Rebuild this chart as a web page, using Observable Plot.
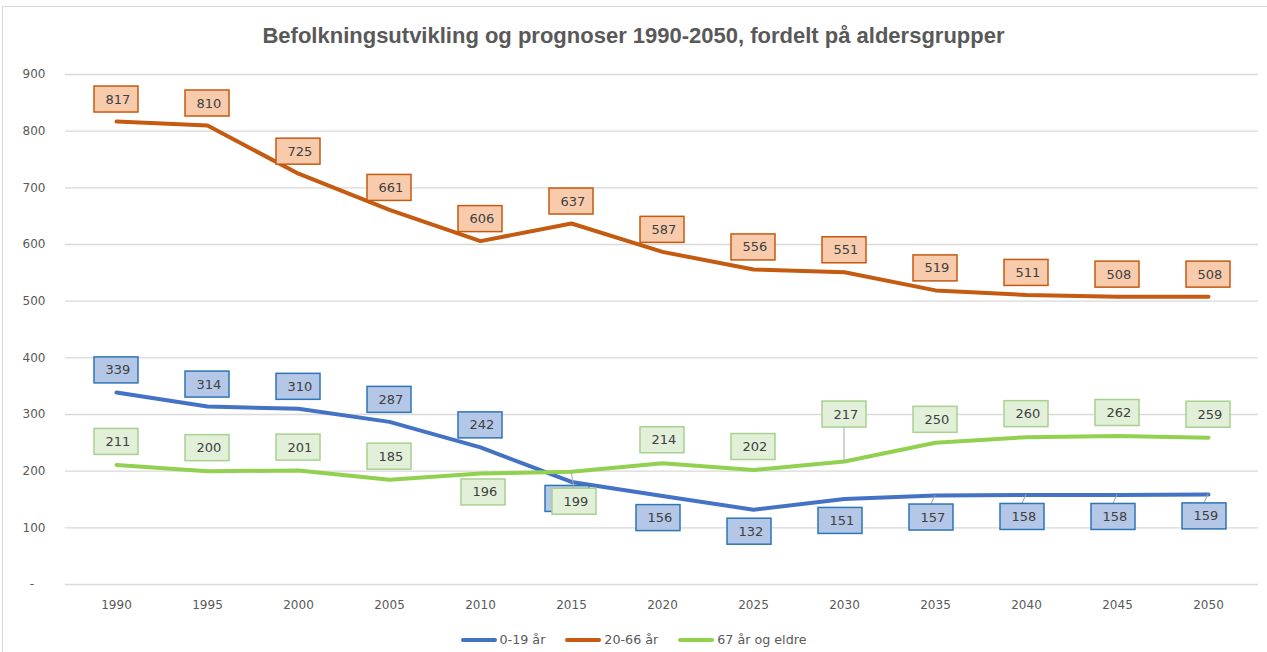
<!DOCTYPE html>
<html>
<head>
<meta charset="utf-8">
<script src="https://cdn.jsdelivr.net/npm/d3@7"></script>
<script src="https://cdn.jsdelivr.net/npm/@observablehq/plot@0.6"></script>
<style>
  html, body { margin: 0; padding: 0; background: #fff; }
  #wrap { position: relative; width: 1267px; height: 652px; overflow: hidden; font-family: "DejaVu Sans", sans-serif; }
  #frame { position: absolute; left: 2px; top: 6px; width: 1300px; height: 700px; border: 1px solid #d9d9d9; }
  #title { position: absolute; left: 0; width: 1267px; top: 23px; text-align: center; font-family: "Liberation Sans", sans-serif; font-weight: bold; font-size: 22px; color: #595959; }
  #chart { position: absolute; left: 0; top: 60px; }
  #legend { position: absolute; left: 0; width: 1267px; top: 632px; display: flex; justify-content: center; gap: 20px; font-size: 12.7px; color: #595959; }
  .item { display: flex; align-items: center; gap: 3px; }
  .sw { display: inline-block; width: 36px; height: 4px; border-radius: 2px; }
</style>
</head>
<body>
<div id="wrap">
  <div id="frame"></div>
  <div id="title">Befolkningsutvikling og prognoser 1990-2050, fordelt på aldersgrupper</div>
  <div id="chart"></div>
  <div id="legend"></div>
</div>
<script>
const years = [1990, 1995, 2000, 2005, 2010, 2015, 2020, 2025, 2030, 2035, 2040, 2045, 2050];
const young = [339, 314, 310, 287, 242, 181, 156, 132, 151, 157, 158, 158, 159];
const adults = [817, 810, 725, 661, 606, 637, 587, 556, 551, 519, 511, 508, 508];
const elderly = [211, 200, 201, 185, 196, 199, 214, 202, 217, 250, 260, 262, 259];
const seriesNames = ["0-19 år", "20-66 år", "67 år og eldre"];
const yTicks = [0, 100, 200, 300, 400, 500, 600, 700, 800, 900];

const styles = {
  "0-19 år": {line: "#4472C4", fill: "#B4C7E7", stroke: "#2E75B6"},
  "20-66 år": {line: "#C55A11", fill: "#F8CBAD", stroke: "#C55A11"},
  "67 år og eldre": {line: "#92D050", fill: "#E2F0D9", stroke: "#A9D18E"}
};

const rows = [];
[young, adults, elderly].forEach((vals, s) => {
  vals.forEach((v, i) => rows.push({series: seriesNames[s], year: years[i], value: v, i}));
});

// label placement rule (in pixels)
function labelOffset(d) {
  const b = young[d.i], g = elderly[d.i];
  if (d.series === "20-66 år") return {dx: 0, dy: -22, leader: false, hidden: false};
  if (d.series === "0-19 år") {
    if (b < g) {
      // label covered by the other series' label where the lines cross
      const covered = Math.abs(b - g) < 50;
      return {dx: -4, dy: covered ? 17 : 22, leader: d.year >= 2035, hidden: covered};
    }
    return {dx: 0, dy: -22, leader: false, hidden: false};
  }
  // elderly
  if (d.year === 2030) return {dx: 0, dy: -47, leader: true, hidden: false};
  if (Math.abs(b - g) < 50) return {dx: 3, dy: b < g ? 30 : 19, leader: b < g, hidden: false};
  return {dx: 0, dy: -23, leader: false, hidden: false};
}

const labelMark = (index, scales) => {
  const g = d3.create("svg:g");
  rows.forEach(d => {
    const st = styles[d.series];
    const o = labelOffset(d);
    const px = scales.x(d.year), py = scales.y(d.value);
    const cx = px + o.dx, cy = py + o.dy;
    const grp = g.append("g");
    if (o.leader) {
      const edge = cy + (o.dy > 0 ? -13 : 13);
      grp.append("line").attr("x1", px).attr("y1", py).attr("x2", cx).attr("y2", edge)
        .attr("stroke", "#a6a6a6").attr("stroke-width", 1);
    }
    grp.append("rect").attr("x", cx - 22).attr("y", cy - 13).attr("width", 44).attr("height", 26)
      .attr("fill", st.fill).attr("stroke", st.stroke).attr("stroke-width", 1.5);
    if (!o.hidden) {
      grp.append("text").attr("x", cx + 2).attr("y", cy).attr("dy", "0.35em").attr("text-anchor", "middle")
        .attr("fill", "#404040").attr("font-size", 13).attr("font-family", "DejaVu Sans, sans-serif")
        .text(d.value);
    }
  });
  return g.node();
};

const chart = Plot.plot({
  width: 1267,
  height: 564,
  marginLeft: 65,
  marginRight: 9,
  marginTop: 14,
  marginBottom: 40,
  style: {fontFamily: "DejaVu Sans, sans-serif", fontSize: "12px", color: "#595959", background: "transparent"},
  x: {type: "point", domain: years, padding: 0.5, label: null, tickSize: 0, tickPadding: 16,
      tickFormat: d => String(d)},
  y: {domain: [0, 900], ticks: yTicks, label: null, tickSize: 0, tickPadding: 20,
      tickFormat: d => d === 0 ? "-\u00a0\u00a0\u00a0" : String(d)},
  marks: [
    Plot.ruleY(yTicks, {stroke: "#d9d9d9", strokeWidth: 1.3}),
    Plot.line(rows, {x: "year", y: "value", z: "series", stroke: d => styles[d.series].line,
      strokeWidth: 4, strokeLinecap: "round", strokeLinejoin: "round"}),
    labelMark
  ]
});
document.getElementById("chart").appendChild(chart);

const legend = document.getElementById("legend");
seriesNames.forEach(n => {
  const it = document.createElement("div");
  it.className = "item";
  const sw = document.createElement("span");
  sw.className = "sw";
  sw.style.background = styles[n].line;
  const t = document.createElement("span");
  t.textContent = n;
  it.appendChild(sw); it.appendChild(t);
  legend.appendChild(it);
});
</script>
</body>
</html>
